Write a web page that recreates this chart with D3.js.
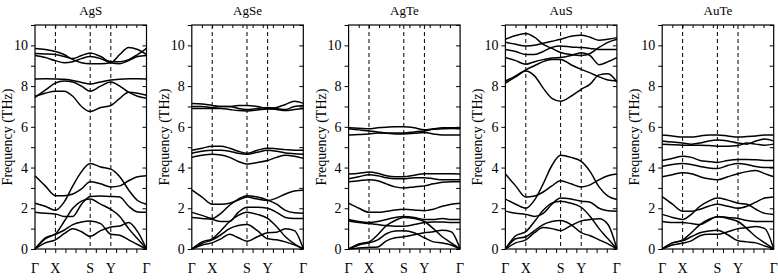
<!DOCTYPE html>
<html>
<head>
<meta charset="utf-8">
<script src="https://cdn.jsdelivr.net/npm/d3@7/dist/d3.min.js"></script>
<style>
  body { margin: 0; background: #fff; }
</style>
</head>
<body>
<script>
var materials = ['AgS', 'AgSe', 'AgTe', 'AuS', 'AuTe'];
var kLabels = ['Γ', 'X', 'S', 'Y', 'Γ'];
var kSym = [0, 0.183, 0.495, 0.68, 1];
// sampling points along Γ-X-S-Y-Γ
var kGrid = [0, 0.092, 0.183, 0.261, 0.339, 0.417, 0.495, 0.588, 0.68, 0.76, 0.84, 0.92, 1];
var yTicks = [0, 1, 2, 3, 4, 5, 6, 7, 8, 9, 10, 11];

var bandsAgS = [
  [9.85, 9.8, 9.7, 9.55, 9.3, 9.15, 9.1, 9.1, 9.15, 9.55, 9.9, 9.8, 9.55],
  [9.6, 9.58, 9.55, 9.45, 9.35, 9.5, 9.62, 9.45, 9.2, 9.2, 9.3, 9.55, 9.85],
  [9.5, 9.4, 9.25, 9.15, 9.2, 9.35, 9.45, 9.35, 9.15, 9.1, 9.25, 9.45, 9.5],
  [8.35, 8.36, 8.35, 8.33, 8.28, 8.18, 8.1, 8.2, 8.3, 8.34, 8.36, 8.36, 8.35],
  [7.45, 7.8, 8.15, 8.25, 8.2, 8.0, 7.75, 8.0, 8.2, 8.0, 7.7, 7.5, 7.4],
  [7.5, 7.65, 7.75, 7.75, 7.5, 7.0, 6.75, 6.95, 7.05, 7.4, 7.7, 7.65, 7.55],
  [3.6, 3.1, 2.62, 2.62, 2.7, 2.95, 3.3, 3.2, 3.05, 3.1, 3.35, 3.55, 3.6],
  [2.25, 2.1, 1.9, 2.3, 3.1, 3.8, 4.2, 4.03, 3.92, 3.55, 2.9, 2.38, 2.2],
  [1.8, 1.75, 1.72, 1.6, 1.6, 2.2, 2.58, 2.6, 2.58, 2.55, 2.1, 1.82, 1.8],
  [0, 0.55, 0.75, 1.35, 2.0, 2.35, 2.45, 2.2, 1.95, 1.6, 1.0, 0.5, 0],
  [0, 0.5, 0.72, 0.92, 1.2, 1.33, 1.38, 1.25, 0.72, 0.67, 0.45, 0.22, 0],
  [0, 0.3, 0.45, 0.75, 1.0, 0.85, 0.62, 0.9, 1.08, 1.13, 1.3, 0.85, 0]
];
var bandsAgSe = [
  [7.15, 7.12, 7.05, 7.0, 7.0, 7.05, 7.05, 7.0, 6.9, 6.95, 7.1, 7.25, 7.15],
  [7.0, 7.0, 6.95, 7.0, 7.0, 6.9, 6.85, 6.9, 6.95, 6.9, 6.85, 7.0, 7.05],
  [6.9, 6.9, 6.9, 6.9, 6.85, 6.8, 6.78, 6.82, 6.88, 6.85, 6.8, 6.85, 6.9],
  [4.85, 4.95, 5.05, 5.05, 4.95, 4.8, 4.7, 4.85, 4.95, 4.92, 4.88, 4.85, 4.85],
  [4.7, 4.8, 4.85, 4.85, 4.8, 4.7, 4.65, 4.75, 4.85, 4.8, 4.72, 4.68, 4.65],
  [4.5, 4.6, 4.65, 4.62, 4.5, 4.3, 4.18, 4.25, 4.35, 4.5, 4.6, 4.55, 4.45],
  [2.9, 2.55, 2.2, 2.2, 2.25, 2.4, 2.55, 2.45, 2.38, 2.5, 2.7, 2.85, 2.88],
  [1.8, 1.65, 1.5, 1.75, 2.15, 2.45, 2.62, 2.55, 2.4, 2.2, 1.9, 1.78, 1.75],
  [1.55, 1.5, 1.45, 1.35, 1.35, 1.8, 2.05, 2.05, 2.0, 1.8, 1.55, 1.5, 1.5],
  [0, 0.35, 0.5, 0.9, 1.35, 1.65, 1.8, 1.7, 1.5, 1.1, 0.6, 0.25, 0],
  [0, 0.28, 0.45, 0.7, 1.0, 1.15, 1.2, 0.9, 0.5, 0.45, 0.35, 0.2, 0],
  [0, 0.2, 0.3, 0.5, 0.72, 0.55, 0.38, 0.6, 0.8, 0.82, 1.0, 0.9, 0]
];
var bandsAgTe = [
  [5.95, 5.93, 5.9, 5.95, 5.98, 6.0, 6.0, 5.95, 5.85, 5.9, 5.95, 5.95, 5.95],
  [5.9, 5.85, 5.8, 5.75, 5.7, 5.7, 5.7, 5.75, 5.8, 5.88, 5.9, 5.92, 5.9],
  [5.6, 5.62, 5.65, 5.7, 5.68, 5.65, 5.65, 5.68, 5.72, 5.65, 5.6, 5.6, 5.6],
  [3.68, 3.72, 3.78, 3.72, 3.6, 3.55, 3.55, 3.62, 3.7, 3.7, 3.7, 3.7, 3.68],
  [3.45, 3.55, 3.65, 3.6, 3.5, 3.45, 3.45, 3.5, 3.5, 3.45, 3.4, 3.4, 3.4],
  [3.3, 3.35, 3.4, 3.35, 3.2, 3.05, 3.0, 3.05, 3.1, 3.2, 3.28, 3.3, 3.3],
  [2.25, 2.0, 1.8, 1.8, 1.85, 1.92, 1.95, 1.92, 1.88, 1.95, 2.1, 2.2, 2.25],
  [1.45, 1.35, 1.3, 1.35, 1.45, 1.55, 1.6, 1.55, 1.45, 1.45, 1.5, 1.45, 1.45],
  [0, 0.25, 0.35, 0.7, 1.15, 1.4, 1.55, 1.5, 1.35, 1.0, 0.6, 0.3, 0],
  [1.38, 1.3, 1.25, 1.2, 1.15, 1.12, 1.12, 1.2, 1.3, 1.32, 1.32, 1.3, 1.3],
  [0, 0.2, 0.3, 0.45, 0.75, 0.88, 0.9, 0.8, 0.55, 0.35, 0.3, 0.2, 0],
  [0, 0.05, 0.08, 0.1, 0.4, 0.55, 0.6, 0.7, 0.8, 0.85, 0.92, 0.85, 0]
];
var bandsAuS = [
  [10.3, 10.48, 10.58, 10.4, 10.05, 9.85, 9.65, 9.55, 9.5, 9.6, 9.9, 10.15, 10.3],
  [10.15, 10.05, 9.97, 10.0, 10.1, 10.2, 10.3, 10.45, 10.5, 10.4, 10.25, 10.3, 10.38],
  [9.8, 9.7, 9.55, 9.55, 9.7, 9.9, 9.97, 9.92, 9.89, 9.85, 9.8, 9.8, 9.8],
  [9.4, 9.25, 9.07, 9.2, 9.3, 9.38, 9.4, 9.5, 9.64, 9.5, 9.05, 9.2, 9.4],
  [8.25, 8.5, 8.8, 9.0, 9.2, 9.3, 9.31, 9.05, 8.82, 8.65, 8.45, 8.3, 8.25],
  [8.15, 8.45, 8.74, 8.5, 7.9, 7.4, 7.26, 7.5, 7.84, 8.1, 8.55, 8.6, 8.2],
  [3.68, 3.1, 2.55, 2.6, 2.8, 3.1, 3.35, 3.2, 3.05, 3.15, 3.4, 3.6, 3.68],
  [2.45, 2.2, 2.0, 2.4, 3.2, 4.1, 4.6, 4.5, 4.3, 3.8, 3.05, 2.6, 2.43],
  [1.86, 1.75, 1.7, 1.6, 1.75, 2.2, 2.5, 2.45, 2.35, 2.3, 2.0, 1.88, 1.85],
  [0, 0.65, 0.85, 1.35, 1.9, 2.25, 2.35, 2.25, 2.05, 1.6, 1.0, 0.5, 0],
  [0, 0.5, 0.6, 0.9, 1.2, 1.35, 1.4, 1.2, 0.8, 0.65, 0.45, 0.25, 0],
  [0, 0.3, 0.45, 0.8, 1.05, 1.0, 0.9, 1.15, 1.38, 1.45, 1.48, 1.2, 0]
];
var bandsAuTe = [
  [5.6, 5.55, 5.5, 5.5, 5.55, 5.6, 5.6, 5.55, 5.5, 5.52, 5.55, 5.6, 5.6],
  [5.3, 5.25, 5.2, 5.15, 5.2, 5.3, 5.35, 5.3, 5.2, 5.15, 5.3, 5.4, 5.3],
  [5.15, 5.12, 5.1, 5.1, 5.1, 5.08, 5.05, 5.05, 5.08, 5.2, 5.15, 5.1, 5.15],
  [4.35, 4.45, 4.55, 4.5, 4.35, 4.3, 4.25, 4.35, 4.4, 4.4, 4.38, 4.35, 4.35],
  [4.05, 4.15, 4.2, 4.15, 4.05, 3.98, 3.95, 4.1, 4.2, 4.15, 4.05, 4.0, 4.0],
  [3.55, 3.65, 3.75, 3.7, 3.55, 3.45, 3.4, 3.55, 3.7, 3.8, 3.85, 3.7, 3.55],
  [2.57, 2.2, 1.85, 1.85, 1.95, 2.1, 2.2, 2.1, 2.0, 2.1, 2.3, 2.5, 2.55],
  [1.7, 1.55, 1.45, 1.7, 2.1, 2.35, 2.5, 2.4, 2.25, 2.2, 1.95, 1.75, 1.7],
  [1.35, 1.3, 1.3, 1.25, 1.2, 1.4, 1.6, 1.55, 1.5, 1.4, 1.35, 1.35, 1.35],
  [0, 0.3, 0.45, 0.8, 1.2, 1.45, 1.58, 1.5, 1.35, 1.0, 0.6, 0.3, 0],
  [0, 0.3, 0.4, 0.6, 0.8, 0.88, 0.92, 0.7, 0.4, 0.35, 0.3, 0.15, 0],
  [0, 0.2, 0.28, 0.4, 0.65, 0.72, 0.72, 0.85, 1.0, 1.05, 1.1, 1.0, 0]
];
var allBands = [bandsAgS, bandsAgSe, bandsAgTe, bandsAuS, bandsAuTe];

var W = 778, H = 280;
var panelW = 111.5, panelH = 224, left0 = 35, step = 156.8, top0 = 25;
var serif = "'Liberation Serif'";

var svg = d3.select("body").append("svg")
    .attr("width", W)
    .attr("height", H);

materials.forEach(function(name, i) {
  var xScale = d3.scaleLinear().domain([0, 1]).range([0, panelW]);
  var yScale = d3.scaleLinear().domain([0, 11]).range([panelH, 0]);

  var g = svg.append("g")
      .attr("transform", "translate(" + (left0 + i * step) + "," + top0 + ")");

  // title
  g.append("text")
    .attr("x", panelW / 2)
    .attr("y", -10)
    .attr("text-anchor", "middle")
    .style("font-family", serif)
    .style("font-size", "13px")
    .text(name);

  // dashed lines at X, S, Y
  g.selectAll(".sym")
    .data(kSym.slice(1, 4))
    .enter().append("line")
    .attr("x1", function(d) { return xScale(d); })
    .attr("x2", function(d) { return xScale(d); })
    .attr("y1", 0)
    .attr("y2", panelH)
    .attr("stroke", "#000")
    .attr("stroke-width", 1)
    .attr("stroke-dasharray", "4,3");

  // axes
  var yLeft = g.append("g")
      .call(d3.axisLeft(yScale).tickValues(yTicks).tickSize(4).tickPadding(3)
        .tickFormat(function(d) { return (d % 2 === 0 && d <= 10) ? d : ""; }));
  var yRight = g.append("g")
      .attr("transform", "translate(" + panelW + ",0)")
      .call(d3.axisRight(yScale).tickValues(yTicks).tickSize(-4).tickFormat(""));
  var xTicks = d3.range(1, 11).map(function(j) { return j / 11; });
  var xTop = g.append("g")
      .call(d3.axisTop(xScale).tickValues(xTicks).tickSize(-3).tickFormat(""));
  var xBottom = g.append("g")
      .attr("transform", "translate(0," + panelH + ")")
      .call(d3.axisBottom(xScale).tickValues(xTicks).tickSize(4).tickFormat(""));
  [yLeft, yRight, xTop, xBottom].forEach(function(a) {
    a.select(".domain").remove();
    a.selectAll("line").attr("stroke", "#000");
  });
  yLeft.selectAll("text")
    .style("font-family", serif)
    .style("font-size", "14px")
    .attr("fill", "#000");

  // frame
  g.append("rect")
    .attr("width", panelW)
    .attr("height", panelH)
    .attr("fill", "none")
    .attr("stroke", "#000")
    .attr("stroke-width", 1.2);

  // k-point labels
  g.selectAll(".klab")
    .data(kSym)
    .enter().append("text")
    .attr("x", function(d) { return xScale(d); })
    .attr("y", panelH + 24)
    .attr("text-anchor", "middle")
    .style("font-family", serif)
    .style("font-size", "14px")
    .text(function(d, j) { return kLabels[j]; });

  // y label
  g.append("text")
    .attr("transform", "translate(-23," + (panelH / 2) + ") rotate(-90)")
    .attr("text-anchor", "middle")
    .style("font-family", serif)
    .style("font-size", "14px")
    .text("Frequency (THz)");

  // bands
  var line = d3.line()
      .x(function(d, j) { return xScale(kGrid[j]); })
      .y(function(d) { return yScale(d); })
      .curve(d3.curveMonotoneX);

  g.selectAll(".band")
    .data(allBands[i])
    .enter().append("path")
    .attr("d", line)
    .attr("fill", "none")
    .attr("stroke", "#000")
    .attr("stroke-width", 1.5);
});
</script>
</body>
</html>
